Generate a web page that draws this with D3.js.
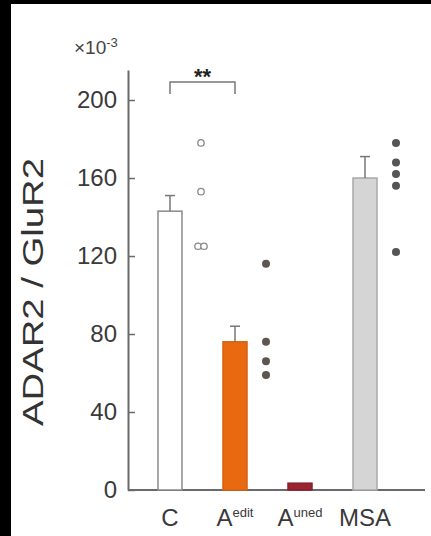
<!DOCTYPE html>
<html>
<head>
<meta charset="utf-8">
<script src="https://cdn.jsdelivr.net/npm/d3@7"></script>
<style>
  body { margin: 0; background: #fff; }
  svg { display: block; font-family: Arial, "Liberation Sans", sans-serif; }
</style>
</head>
<body>
<svg id="chart" width="431" height="536"></svg>
<script>
// data
const categories = ["C", "Aedit", "Auned", "MSA"];
const means = [143, 76, 3.5, 160];
const errTops = [151, 84, null, 171];
const dotsC = [178, 153, 125, 125];
const dotsAedit = [116, 76, 66, 59];
const dotsAuned = [];
const dotsMSA = [178, 168, 162, 156, 122];
const yTicks = [0, 40, 80, 120, 160, 200];

const dotSets = [dotsC, dotsAedit, dotsAuned, dotsMSA];
const barFill = ["#ffffff", "#e8690f", "#9c2330", "#d5d5d5"];
const barStroke = ["#8a8a8a", "#d9600c", "#8a1e2a", "#a8a8a8"];
const dotOpen = [true, false, false, false];

const svg = d3.select("#chart");

// frame edges from the scanned figure
svg.append("rect").attr("x", 0).attr("y", 0).attr("width", 431).attr("height", 4).attr("fill", "#000");
svg.append("rect").attr("x", 0).attr("y", 0).attr("width", 11).attr("height", 536).attr("fill", "#000");

const x = d3.scalePoint()
  .domain(categories)
  .range([170, 365]);

const y = d3.scaleLinear()
  .domain([0, 215.4])
  .range([490, 70]);

const barW = 24;
const dotDx = 31;

// y axis with inward ticks
const yAxis = d3.axisLeft(y)
  .tickValues(yTicks)
  .tickSizeInner(-7)
  .tickSizeOuter(0)
  .tickPadding(11);

const gy = svg.append("g")
  .attr("transform", "translate(128,0)")
  .call(yAxis);
gy.select(".domain").attr("stroke", "#6a6a6a").attr("stroke-width", 2);
gy.selectAll(".tick line").attr("stroke", "#6a6a6a").attr("stroke-width", 1.5);
gy.selectAll(".tick text")
  .attr("font-size", 24)
  .attr("font-family", "Arial, 'Liberation Sans', sans-serif")
  .attr("fill", "#3a3a3a");

// x axis baseline
svg.append("line")
  .attr("x1", 128).attr("x2", 425)
  .attr("y1", y(0)).attr("y2", y(0))
  .attr("stroke", "#6a6a6a").attr("stroke-width", 2);

// multiplier label
const mult = svg.append("text")
  .attr("x", 74).attr("y", 54)
  .attr("font-size", 19)
  .attr("fill", "#444");
mult.append("tspan").text("×10");
mult.append("tspan").attr("font-size", 13).attr("dy", -7).text("-3");

// bars
svg.selectAll(".bar")
  .data(categories)
  .enter().append("rect")
  .attr("class", "bar")
  .attr("x", d => x(d) - barW / 2)
  .attr("y", (d, i) => y(means[i]))
  .attr("width", barW)
  .attr("height", (d, i) => y(0) - y(means[i]))
  .attr("fill", (d, i) => barFill[i])
  .attr("stroke", (d, i) => barStroke[i])
  .attr("stroke-width", 1.5);

// error bars
categories.forEach((c, i) => {
  if (errTops[i] == null) return;
  const cx = x(c);
  svg.append("line")
    .attr("x1", cx).attr("x2", cx)
    .attr("y1", y(means[i])).attr("y2", y(errTops[i]))
    .attr("stroke", "#777").attr("stroke-width", 1.5);
  svg.append("line")
    .attr("x1", cx - 5).attr("x2", cx + 5)
    .attr("y1", y(errTops[i])).attr("y2", y(errTops[i]))
    .attr("stroke", "#777").attr("stroke-width", 1.5);
});

// individual points, duplicates nudged apart
categories.forEach((c, i) => {
  const vals = dotSets[i];
  const seen = {};
  vals.forEach(v => {
    const n = vals.filter(w => w === v).length;
    seen[v] = (seen[v] || 0) + 1;
    const shift = n > 1 ? (seen[v] - (n + 1) / 2) * 6 : 0;
    const cx = x(c) + dotDx + shift;
    if (dotOpen[i]) {
      svg.append("circle")
        .attr("cx", cx).attr("cy", y(v)).attr("r", 3.2)
        .attr("fill", "#fff").attr("stroke", "#8a8a8a").attr("stroke-width", 1.3);
    } else {
      svg.append("circle")
        .attr("cx", cx).attr("cy", y(v)).attr("r", 4)
        .attr("fill", i === 1 ? "#5e5450" : "#555");
    }
  });
});

// significance bracket
const bx1 = x("C"), bx2 = x("Aedit");
svg.append("path")
  .attr("d", `M${bx1},94V82H${bx2}V94`)
  .attr("fill", "none").attr("stroke", "#777").attr("stroke-width", 1.5);
svg.append("text")
  .attr("x", (bx1 + bx2) / 2).attr("y", 84)
  .attr("text-anchor", "middle")
  .attr("font-size", 22).attr("font-weight", "bold")
  .attr("fill", "#222")
  .text("**");

// category labels
const labelMain = ["C", "A", "A", "MSA"];
const labelSup = ["", "edit", "uned", ""];
categories.forEach((c, i) => {
  const t = svg.append("text")
    .attr("x", x(c)).attr("y", 526)
    .attr("text-anchor", "middle")
    .attr("font-size", 24)
    .attr("fill", "#3a3a3a");
  t.append("tspan").text(labelMain[i]);
  if (labelSup[i]) {
    t.append("tspan").attr("font-size", 13).attr("dy", -9).text(labelSup[i]);
  }
});

// y label
svg.append("text")
  .attr("transform", "translate(43,292) rotate(-90)")
  .attr("text-anchor", "middle")
  .attr("font-size", 29)
  .attr("fill", "#333")
  .attr("textLength", 268)
  .attr("lengthAdjust", "spacingAndGlyphs")
  .text("ADAR2 / GluR2");
</script>
</body>
</html>
